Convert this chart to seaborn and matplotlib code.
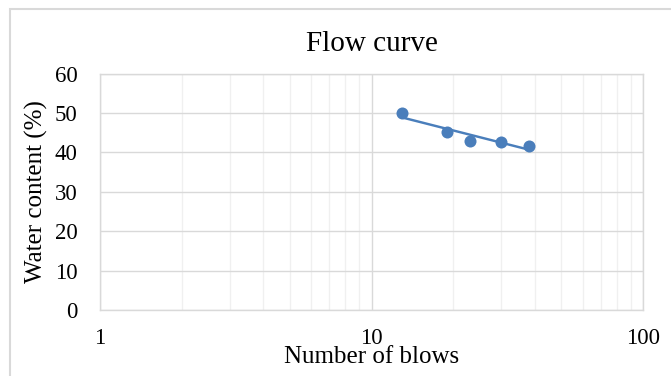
import numpy as np
import pandas as pd
import matplotlib
matplotlib.use("Agg")
import matplotlib.pyplot as plt
import seaborn as sns
from matplotlib.ticker import LogLocator, FixedLocator, NullFormatter
from matplotlib.patches import Rectangle

blows = [13, 19, 23, 30, 38]
water_content = [50.0, 45.2, 42.9, 42.7, 41.6]
x_ticks = [1, 10, 100]
x_tick_labels = ["1", "10", "100"]
y_ticks = [0, 10, 20, 30, 40, 50, 60]

df = pd.DataFrame({"blows": blows, "wc": water_content})

sns.set_theme(style="white")
plt.rcParams['font.family'] = ['Liberation Serif', 'DejaVu Serif']

W, H = 671, 376
ax_l, ax_r, ax_t, ax_b = 100, 643, 73.5, 310
fig = plt.figure(figsize=(W / 100, H / 100), dpi=100)
ax = fig.add_axes([ax_l / W, 1 - ax_b / H, (ax_r - ax_l) / W, (ax_b - ax_t) / H])

blue = "#4A7EBB"
# logarithmic trendline
coef = np.polyfit(np.log(df["blows"]), df["wc"], 1)
xt = np.linspace(min(blows), max(blows), 50)
ax.plot(xt, coef[0] * np.log(xt) + coef[1], color=blue, lw=1.75, zorder=3)

sns.scatterplot(data=df, x="blows", y="wc", ax=ax, color=blue, s=75,
                edgecolor=blue, linewidth=0, zorder=4, legend=False)

ax.set_xscale("log")
ax.set_xlim(1, 100)
ax.set_ylim(0, 60)
ax.xaxis.set_major_locator(FixedLocator(x_ticks))
ax.set_xticks(x_ticks)
ax.set_xticklabels(x_tick_labels)
ax.xaxis.set_minor_locator(LogLocator(base=10, subs=np.arange(2, 10)))
ax.xaxis.set_minor_formatter(NullFormatter())
ax.set_yticks(y_ticks)

ax.grid(which="major", color="#D9D9D9", lw=1.0)
ax.grid(which="minor", axis="x", color="#F0F0F0", lw=1.0)
ax.set_axisbelow(True)
for s in ax.spines.values():
    s.set_color("#D9D9D9")
    s.set_linewidth(1.0)

ax.tick_params(axis="both", which="both", length=0, labelsize=16.5, colors="black")
ax.tick_params(axis="x", pad=13)
ax.tick_params(axis="y", pad=16)

ax.set_xlabel("Number of blows", fontsize=18, color="black", va="baseline")
ax.xaxis.set_label_coords(0.5, -(363 - ax_b) / (ax_b - ax_t))
ax.set_ylabel("Water content (%)", fontsize=18, color="black", va="center")
ax.yaxis.set_label_coords((36 - ax_l) / (ax_r - ax_l), 0.5)
fig.text(0.5 * (ax_l + ax_r) / W, 1 - 44 / H, "Flow curve", ha="center", va="center",
         fontsize=21, color="black")

fig.patches.append(Rectangle((10 / W, -0.1), 1.2, 1.1 - 9 / H, transform=fig.transFigure,
                             fill=False, edgecolor="#D9D9D9", lw=1.5, zorder=0))

fig.savefig("out.png", dpi=100, facecolor="white")
